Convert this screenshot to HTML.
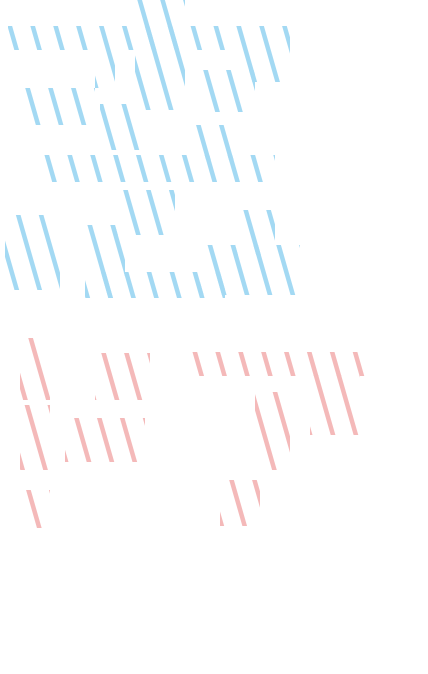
<!DOCTYPE html>
<html><head><meta charset="utf-8"><style>
html,body{margin:0;padding:0;background:#fff;width:428px;height:674px;overflow:hidden}
svg{display:block}
</style></head><body>
<svg id="chart" width="428" height="674" viewBox="0 0 428 674" xmlns="http://www.w3.org/2000/svg">
<defs>
<pattern id="hb" width="22" height="22" patternUnits="userSpaceOnUse" patternTransform="rotate(-16)">
<rect x="0" y="0" width="4.5" height="22" fill="#a3d9f3"/></pattern>
<pattern id="hr" width="22" height="22" patternUnits="userSpaceOnUse" patternTransform="rotate(-16)">
<rect x="0" y="0" width="4.5" height="22" fill="#f4b9b9"/></pattern>
</defs>
<g id="marks"></g>
</svg>
<script>
// band extents: [x0, x1, y0, y1]
const blueBands = [[8,290,26,50],[135,185,0,110],[95,115,50,88],[240,290,50,82],[25,95,88,125],[200,255,70,112],
  [100,140,104,150],[40,275,155,182],[190,240,125,160],[115,175,190,235],[235,275,210,255],
  [5,60,215,290],[85,125,225,298],[95,225,272,298],[200,300,245,295]];
const redBands = [[20,50,338,400],[20,50,405,470],[20,50,490,528],[185,375,352,376],[95,150,353,400],
  [65,145,418,462],[255,290,392,470],[220,260,480,526],[310,360,375,435]];
const g = document.getElementById('marks');
function draw(bands, fill, name){
  bands.forEach((b,i)=>{
    const r=document.createElementNS('http://www.w3.org/2000/svg','rect');
    r.setAttribute('x',b[0]);r.setAttribute('y',b[2]);
    r.setAttribute('width',b[1]-b[0]);r.setAttribute('height',b[3]-b[2]);
    r.setAttribute('fill',fill);
    
    
    g.appendChild(r);
  });
}
draw(blueBands,'url(#hb)','blue-hatch-band');
draw(redBands,'url(#hr)','red-hatch-band');
</script>
</body></html>
